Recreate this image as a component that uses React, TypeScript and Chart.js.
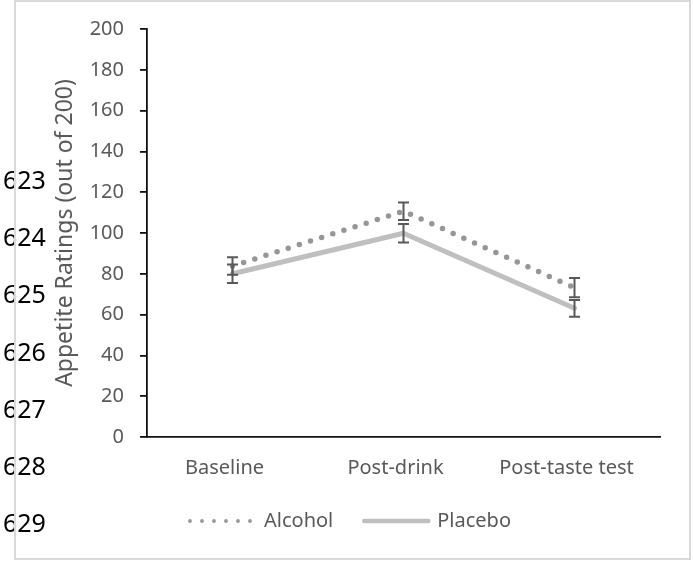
import { useEffect, useRef } from "react";
import { Chart, registerables } from "chart.js";

Chart.register(...registerables);

const categories = ["Baseline", "Post-drink", "Post-taste test"];
const alcoholMeans = [83.8, 110.7, 73.2];
const alcoholErrors = [4.3, 4.3, 4.7];
const placeboMeans = [80, 99.9, 63.1];
const placeboErrors = [4.5, 4.5, 4.1];
const seriesNames = ["Alcohol", "Placebo"];
const yTicksMin = 0;
const yTicksMax = 200;
const yTicksStep = 20;
const yAxisTitle = "Appetite Ratings (out of 200)";
const lineNumbers = ["623", "624", "625", "626", "627", "628", "629"];

const FONT = '"Noto Sans", "Open Sans", sans-serif';
const TEXT_GRAY = "#595959";
const ALCOHOL_COLOR = "#969696";
const PLACEBO_COLOR = "#bfbfbf";

const errorBarPlugin = {
  id: "errorBars",
  afterDatasetsDraw(chart: any, _args: any, opts: any) {
    const ctx = chart.ctx;
    const yScale = chart.scales.y;
    const errs: number[][] = opts.errors || [];
    chart.data.datasets.forEach((ds: any, i: number) => {
      const meta = chart.getDatasetMeta(i);
      const e = errs[i];
      if (!e) return;
      meta.data.forEach((pt: any, j: number) => {
        const v = ds.data[j] as number;
        const top = yScale.getPixelForValue(v + e[j]);
        const bot = yScale.getPixelForValue(v - e[j]);
        ctx.save();
        ctx.strokeStyle = "#595959";
        ctx.lineWidth = 2;
        ctx.setLineDash([]);
        ctx.beginPath();
        ctx.moveTo(pt.x, top);
        ctx.lineTo(pt.x, bot);
        ctx.moveTo(pt.x - 5.5, top);
        ctx.lineTo(pt.x + 5.5, top);
        ctx.moveTo(pt.x - 5.5, bot);
        ctx.lineTo(pt.x + 5.5, bot);
        ctx.stroke();
        ctx.restore();
      });
    });
  },
};

const decorPlugin = {
  id: "decor",
  afterDraw(chart: any) {
    const ctx = chart.ctx;
    ctx.save();
    // legend
    ctx.font = `20px ${FONT}`;
    ctx.textBaseline = "middle";
    const ly = 521;
    const sampleA = 62;
    const sampleP = 68;
    const gapA = 13;
    const gapP = 7;
    const itemGap = 29;
    const wA = ctx.measureText(seriesNames[0]).width;
    const wP = ctx.measureText(seriesNames[1]).width;
    const total = sampleA + gapA + wA + itemGap + sampleP + gapP + wP;
    let x = 350 - total / 2;
    ctx.strokeStyle = ALCOHOL_COLOR;
    ctx.lineWidth = 3.8;
    ctx.lineCap = "round";
    ctx.setLineDash([0, 12]);
    ctx.beginPath();
    ctx.moveTo(x + 1, ly);
    ctx.lineTo(x + sampleA, ly);
    ctx.stroke();
    x += sampleA + gapA;
    ctx.fillStyle = TEXT_GRAY;
    ctx.fillText(seriesNames[0], x, ly);
    x += wA + itemGap;
    ctx.setLineDash([]);
    ctx.strokeStyle = PLACEBO_COLOR;
    ctx.lineWidth = 4.5;
    ctx.beginPath();
    ctx.moveTo(x + 2, ly);
    ctx.lineTo(x + sampleP - 2, ly);
    ctx.stroke();
    x += sampleP + gapP;
    ctx.fillText(seriesNames[1], x, ly);

    // line numbers
    ctx.font = `25px ${FONT}`;
    ctx.fillStyle = "#000";
    ctx.textBaseline = "alphabetic";
    lineNumbers.forEach((t, i) => {
      const cy = 180 + i * 57.2;
      ctx.fillText(t, 3, cy + 8.9);
    });

    // border
    ctx.strokeStyle = "#d9d9d9";
    ctx.lineWidth = 2;
    ctx.lineCap = "butt";
    ctx.strokeRect(15, 1, 675, 558);
    ctx.restore();
  },
};

export default function App() {
  const ref = useRef<HTMLCanvasElement | null>(null);
  useEffect(() => {
    if (!ref.current) return;
    const chart = new Chart(ref.current, {
      type: "line",
      data: {
        labels: categories,
        datasets: [
          {
            label: seriesNames[1],
            data: placeboMeans,
            borderColor: PLACEBO_COLOR,
            borderWidth: 5,
            borderCapStyle: "round",
            borderJoinStyle: "round",
            pointRadius: 0,
            tension: 0,
            fill: false,
          },
          {
            label: seriesNames[0],
            data: alcoholMeans,
            borderColor: ALCOHOL_COLOR,
            borderWidth: 5.5,
            borderDash: [0, 11.7],
            borderCapStyle: "round",
            pointRadius: 0,
            tension: 0,
            fill: false,
          },
        ],
      },
      options: {
        animation: false,
        responsive: false,
        layout: { padding: { left: 51, right: 33, top: 29, bottom: 65 } },
        plugins: {
          legend: { display: false },
          tooltip: { enabled: false },
          errorBars: { errors: [placeboErrors, alcoholErrors] },
        } as any,
        scales: {
          x: {
            offset: true,
            grid: { display: false, drawTicks: false },
            border: { color: "#111", width: 1.8 },
            ticks: {
              color: TEXT_GRAY,
              font: { family: FONT, size: 20 },
              padding: 19,
              labelOffset: -8,
              maxRotation: 0,
            },
            afterFit(scale: any) {
              scale.height = 60;
            },
          },
          y: {
            min: yTicksMin,
            max: yTicksMax,
            ticks: {
              stepSize: yTicksStep,
              color: TEXT_GRAY,
              font: { family: FONT, size: 20 },
              padding: 16,
            },
            grid: {
              display: true,
              drawOnChartArea: false,
              drawTicks: true,
              tickLength: 7,
              color: "#111",
              lineWidth: 1.8,
            },
            border: { color: "#111", width: 1.8 },
            title: {
              display: true,
              text: yAxisTitle,
              color: TEXT_GRAY,
              font: { family: FONT, size: 23 },
              padding: { top: 1, bottom: 0 },
            },
            afterFit(scale: any) {
              scale.width = 96;
            },
          },
        },
      },
      plugins: [errorBarPlugin, decorPlugin],
    });
    return () => chart.destroy();
  }, []);
  return (
    <div
      style={{
        position: "fixed",
        left: 0,
        top: 0,
        width: 693,
        height: 562,
        background: "#fff",
      }}
    >
      <canvas ref={ref} width={693} height={562} style={{ display: "block" }} />
    </div>
  );
}
